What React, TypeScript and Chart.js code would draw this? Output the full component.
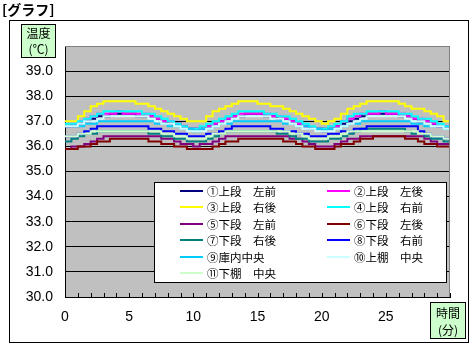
import React, { useEffect, useRef } from "react";
import { Chart, registerables } from "chart.js";

Chart.register(...registerables);

// Time (minutes)
const times = [
  0, 0.5, 1, 1.5, 2, 2.5, 3, 3.5, 4, 4.5,
  5, 5.5, 6, 6.5, 7, 7.5, 8, 8.5, 9, 9.5,
  10, 10.5, 11, 11.5, 12, 12.5, 13, 13.5, 14, 14.5,
  15, 15.5, 16, 16.5, 17, 17.5, 18, 18.5, 19, 19.5,
  20, 20.5, 21, 21.5, 22, 22.5, 23, 23.5, 24, 24.5,
  25, 25.5, 26, 26.5, 27, 27.5, 28, 28.5, 29, 29.5,
  30,
];

const s1 = [
  36.8, 36.8, 36.9, 37.0, 37.1, 37.2, 37.2, 37.3, 37.3, 37.3,
  37.3, 37.2, 37.2, 37.2, 37.1, 37.0, 36.9, 36.9, 36.8, 36.7,
  36.7, 36.7, 36.8, 36.9, 37.0, 37.1, 37.2, 37.2, 37.3, 37.3,
  37.3, 37.2, 37.2, 37.1, 37.1, 37.0, 36.9, 36.8, 36.7, 36.7,
  36.7, 36.7, 36.8, 36.9, 37.0, 37.1, 37.2, 37.3, 37.3, 37.3,
  37.3, 37.3, 37.2, 37.2, 37.1, 37.0, 37.0, 36.9, 36.8, 36.8,
  36.7,
];
const s2 = [
  36.8, 36.9, 37.0, 37.1, 37.2, 37.3, 37.3, 37.3, 37.4, 37.3,
  37.3, 37.3, 37.3, 37.2, 37.1, 37.0, 37.0, 36.9, 36.8, 36.7,
  36.7, 36.7, 36.8, 36.9, 37.0, 37.1, 37.2, 37.3, 37.3, 37.3,
  37.3, 37.3, 37.2, 37.2, 37.1, 37.0, 36.9, 36.8, 36.7, 36.7,
  36.6, 36.7, 36.8, 37.0, 37.1, 37.2, 37.3, 37.3, 37.3, 37.4,
  37.3, 37.3, 37.3, 37.2, 37.1, 37.1, 37.0, 36.9, 36.8, 36.8,
  36.7,
];
const s3 = [
  37.0, 37.0, 37.2, 37.4, 37.6, 37.7, 37.8, 37.8, 37.8, 37.8,
  37.8, 37.7, 37.7, 37.6, 37.5, 37.4, 37.3, 37.2, 37.1, 37.0,
  37.0, 37.0, 37.2, 37.4, 37.5, 37.6, 37.7, 37.8, 37.8, 37.8,
  37.7, 37.7, 37.6, 37.6, 37.5, 37.4, 37.3, 37.2, 37.1, 37.0,
  36.9, 37.0, 37.1, 37.3, 37.5, 37.6, 37.7, 37.8, 37.8, 37.8,
  37.8, 37.8, 37.7, 37.6, 37.5, 37.5, 37.4, 37.3, 37.2, 37.0,
  37.0,
];
const s4 = [
  36.9, 36.9, 37.0, 37.1, 37.2, 37.3, 37.4, 37.4, 37.4, 37.4,
  37.4, 37.4, 37.3, 37.3, 37.2, 37.1, 37.0, 36.9, 36.8, 36.7,
  36.7, 36.8, 36.9, 37.0, 37.1, 37.2, 37.3, 37.4, 37.4, 37.4,
  37.4, 37.3, 37.3, 37.2, 37.2, 37.1, 37.0, 36.9, 36.8, 36.7,
  36.7, 36.8, 36.9, 37.0, 37.2, 37.3, 37.3, 37.4, 37.4, 37.4,
  37.4, 37.4, 37.3, 37.3, 37.2, 37.1, 37.1, 37.0, 36.9, 36.8,
  36.8,
];
const s5 = [
  35.9, 36.0, 36.0, 36.1, 36.2, 36.3, 36.4, 36.4, 36.4, 36.4,
  36.4, 36.4, 36.4, 36.4, 36.4, 36.3, 36.3, 36.2, 36.1, 36.1,
  36.0, 36.1, 36.1, 36.2, 36.3, 36.4, 36.4, 36.4, 36.4, 36.4,
  36.4, 36.4, 36.4, 36.4, 36.4, 36.3, 36.3, 36.2, 36.1, 36.0,
  36.0, 36.0, 36.1, 36.2, 36.3, 36.3, 36.4, 36.4, 36.4, 36.4,
  36.4, 36.4, 36.4, 36.4, 36.4, 36.4, 36.3, 36.2, 36.1, 36.1,
  36.0,
];
const s6 = [
  35.9, 35.9, 36.0, 36.0, 36.1, 36.2, 36.2, 36.3, 36.3, 36.3,
  36.3, 36.3, 36.3, 36.2, 36.2, 36.1, 36.1, 36.0, 36.0, 35.9,
  35.9, 35.9, 35.9, 36.0, 36.1, 36.2, 36.2, 36.3, 36.3, 36.3,
  36.3, 36.3, 36.3, 36.3, 36.2, 36.2, 36.1, 36.0, 36.0, 35.9,
  35.9, 35.9, 36.0, 36.1, 36.1, 36.2, 36.3, 36.3, 36.4, 36.4,
  36.4, 36.4, 36.4, 36.3, 36.3, 36.2, 36.1, 36.1, 36.0, 36.0,
  35.9,
];
const s7 = [
  36.2, 36.3, 36.4, 36.5, 36.5, 36.6, 36.6, 36.6, 36.6, 36.6,
  36.6, 36.6, 36.6, 36.5, 36.5, 36.4, 36.4, 36.3, 36.3, 36.2,
  36.2, 36.2, 36.3, 36.4, 36.5, 36.6, 36.6, 36.6, 36.6, 36.6,
  36.6, 36.6, 36.6, 36.5, 36.5, 36.4, 36.3, 36.3, 36.2, 36.2,
  36.2, 36.3, 36.3, 36.4, 36.5, 36.6, 36.7, 36.7, 36.7, 36.7,
  36.7, 36.7, 36.7, 36.6, 36.5, 36.5, 36.4, 36.3, 36.3, 36.2,
  36.2,
];
const s8 = [
  36.4, 36.4, 36.5, 36.6, 36.7, 36.8, 36.8, 36.8, 36.8, 36.8,
  36.8, 36.8, 36.8, 36.7, 36.7, 36.6, 36.6, 36.5, 36.5, 36.4,
  36.4, 36.4, 36.5, 36.5, 36.6, 36.7, 36.8, 36.8, 36.8, 36.8,
  36.8, 36.8, 36.7, 36.7, 36.6, 36.6, 36.5, 36.5, 36.4, 36.4,
  36.4, 36.5, 36.5, 36.6, 36.6, 36.7, 36.7, 36.8, 36.8, 36.8,
  36.8, 36.8, 36.8, 36.8, 36.8, 36.6, 36.5, 36.4, 36.4, 36.3,
  36.3,
];
const s9 = [
  36.8, 36.8, 36.8, 36.9, 36.9, 37.0, 37.0, 37.0, 37.0, 37.0,
  37.0, 37.0, 37.0, 37.0, 36.9, 36.9, 36.8, 36.8, 36.7, 36.7,
  36.6, 36.7, 36.7, 36.8, 36.9, 36.9, 37.0, 37.0, 37.0, 37.0,
  37.0, 37.0, 37.0, 37.0, 36.9, 36.9, 36.8, 36.8, 36.7, 36.7,
  36.6, 36.7, 36.7, 36.8, 36.9, 36.9, 37.0, 37.0, 37.0, 37.0,
  37.0, 37.0, 37.0, 37.0, 36.9, 36.9, 36.8, 36.8, 36.8, 36.7,
  36.7,
];
const s10 = [
  36.8, 36.8, 36.9, 37.0, 37.0, 37.1, 37.2, 37.2, 37.2, 37.2,
  37.2, 37.2, 37.2, 37.1, 37.0, 36.9, 36.9, 36.8, 36.7, 36.6,
  36.6, 36.6, 36.7, 36.8, 36.9, 37.0, 37.1, 37.2, 37.2, 37.2,
  37.2, 37.2, 37.1, 37.1, 37.0, 36.9, 36.8, 36.7, 36.7, 36.6,
  36.6, 36.6, 36.7, 36.8, 36.9, 37.0, 37.1, 37.2, 37.2, 37.2,
  37.2, 37.2, 37.2, 37.1, 37.0, 37.0, 36.9, 36.8, 36.8, 36.7,
  36.7,
];
const s11 = [
  36.4, 36.4, 36.5, 36.5, 36.6, 36.6, 36.6, 36.6, 36.6, 36.6,
  36.6, 36.6, 36.6, 36.6, 36.6, 36.5, 36.5, 36.4, 36.4, 36.3,
  36.3, 36.3, 36.4, 36.5, 36.5, 36.6, 36.6, 36.6, 36.6, 36.6,
  36.6, 36.6, 36.6, 36.6, 36.6, 36.5, 36.5, 36.4, 36.3, 36.3,
  36.3, 36.4, 36.4, 36.5, 36.6, 36.6, 36.6, 36.6, 36.6, 36.6,
  36.6, 36.6, 36.6, 36.6, 36.6, 36.5, 36.5, 36.4, 36.4, 36.3,
  36.3,
];

const seriesValues = [s1, s2, s3, s4, s5, s6, s7, s8, s9, s10, s11];
const seriesNames = [
  "①上段　左前",
  "②上段　左後",
  "③上段　右後",
  "④上段　右前",
  "⑤下段　左前",
  "⑥下段　左後",
  "⑦下段　右後",
  "⑧下段　右前",
  "⑨庫内中央",
  "⑩上棚　中央",
  "⑪下棚　中央",
];
const seriesColors = [
  "#000080",
  "#ff00ff",
  "#ffff00",
  "#00ffff",
  "#800080",
  "#800000",
  "#008080",
  "#0000ff",
  "#00ccff",
  "#ccffff",
  "#ccffcc",
];

const yMin = 30;
const yMax = 40;
const xMin = 0;
const xMax = 30;
const xLabelValues = [0, 5, 10, 15, 20, 25];

const chartTitle = "[グラフ]";
const yTitleLines = ["温度", "(℃)"];
const xTitleLines = ["時間", "(分)"];

const JP = '"Noto Sans CJK JP", sans-serif';
const NUM = '"Liberation Sans", Arial, sans-serif';

const decorPlugin = {
  id: "decor",
  beforeDraw(chart: any) {
    const { ctx, chartArea: a, width, height } = chart;
    ctx.save();
    ctx.fillStyle = "#ffffff";
    ctx.fillRect(0, 0, width, height);
    // outer frame
    ctx.strokeStyle = "#000000";
    ctx.lineWidth = 1;
    ctx.strokeRect(9.5, 20.5, 459, 322);
    // plot background
    ctx.fillStyle = "#c0c0c0";
    ctx.fillRect(a.left, a.top, a.right - a.left, a.bottom - a.top);
    ctx.restore();
  },
  afterDatasetsDraw(chart: any) {
    const { ctx, chartArea: a } = chart;
    ctx.save();
    // legend box
    const lx = 154.5, ly = 182.5, lw = 292, lh = 100;
    ctx.fillStyle = "#ffffff";
    ctx.fillRect(lx, ly, lw, lh);
    ctx.strokeStyle = "#000000";
    ctx.lineWidth = 1;
    ctx.strokeRect(lx, ly, lw, lh);
    ctx.font = `11.5px ${JP}`;
    ctx.textBaseline = "middle";
    ctx.textAlign = "left";
    chart.data.datasets.forEach((ds: any, i: number) => {
      const col = i % 2;
      const row = Math.floor(i / 2);
      const cy = Math.round(190.7 + row * 16.5);
      const x0 = col === 0 ? 180 : 327;
      ctx.strokeStyle = ds.borderColor;
      ctx.lineWidth = 2;
      ctx.beginPath();
      ctx.moveTo(x0, cy);
      ctx.lineTo(x0 + 23, cy);
      ctx.stroke();
      ctx.fillStyle = "#000000";
      ctx.fillText(ds.label, x0 + 27, cy + 1);
    });
    // plot border (top / right)
    ctx.strokeStyle = "#808080";
    ctx.lineWidth = 1;
    ctx.beginPath();
    ctx.moveTo(a.left, a.top + 0.5);
    ctx.lineTo(a.right - 0.5, a.top + 0.5);
    ctx.lineTo(a.right - 0.5, a.bottom);
    ctx.stroke();
    // minor ticks on x axis, pointing inward
    const xs = chart.scales.x;
    ctx.strokeStyle = "#000000";
    ctx.beginPath();
    xs.ticks.forEach((t: any) => {
      const px = Math.round(xs.getPixelForValue(t.value)) + 0.5;
      ctx.moveTo(px, a.bottom);
      ctx.lineTo(px, a.bottom - 4);
    });
    ctx.stroke();
    ctx.restore();
  },
  afterDraw(chart: any) {
    const { ctx } = chart;
    ctx.save();
    // title
    ctx.fillStyle = "#000000";
    ctx.font = `bold 14px ${JP}`;
    ctx.textBaseline = "alphabetic";
    ctx.textAlign = "left";
    ctx.fillText(chartTitle, 2, 15);
    // y title box
    ctx.fillStyle = "#ccffcc";
    ctx.fillRect(21.5, 24.5, 34, 33);
    ctx.strokeStyle = "#000000";
    ctx.lineWidth = 1;
    ctx.strokeRect(21.5, 24.5, 34, 33);
    ctx.fillStyle = "#000000";
    ctx.font = `12px ${JP}`;
    ctx.textAlign = "center";
    ctx.textBaseline = "middle";
    ctx.fillText(yTitleLines[0], 38.5, 33.5);
    ctx.fillText(yTitleLines[1], 38.5, 49.5);
    // x title box
    ctx.fillStyle = "#ccffcc";
    ctx.fillRect(430.5, 302.5, 35, 36);
    ctx.strokeRect(430.5, 302.5, 35, 36);
    ctx.fillStyle = "#000000";
    ctx.fillText(xTitleLines[0], 448, 313);
    ctx.fillText(xTitleLines[1], 448, 330);
    ctx.restore();
  },
};

export default function App() {
  const ref = useRef<HTMLCanvasElement>(null);
  useEffect(() => {
    const canvas = ref.current;
    if (!canvas) return;
    const datasets = seriesValues.map((vals, i) => ({
      label: seriesNames[i],
      data: times.map((t, k) => ({ x: t, y: vals[k] })),
      borderColor: seriesColors[i],
      backgroundColor: seriesColors[i],
      borderWidth: 2,
      pointRadius: 0,
      stepped: true,
      fill: false,
      order: seriesValues.length - i,
    }));
    const chart = new Chart(canvas, {
      type: "line",
      data: { datasets },
      options: {
        responsive: false,
        devicePixelRatio: 1,
        animation: false,
        events: [],
        layout: { padding: { left: 0, right: 25, top: 46, bottom: 0 } },
        plugins: {
          legend: { display: false },
          tooltip: { enabled: false },
          title: { display: false },
        },
        scales: {
          x: {
            type: "linear",
            min: xMin,
            max: xMax,
            afterFit: (s: any) => {
              s.height = 54;
            },
            ticks: {
              stepSize: 1,
              autoSkip: false,
              maxRotation: 0,
              padding: 12,
              color: "#000000",
              font: { family: NUM, size: 14 },
              callback: (v: any) => (xLabelValues.includes(Number(v)) ? String(v) : ""),
            },
            grid: { display: false, drawTicks: false },
            border: { display: true, color: "#000000", width: 1 },
          },
          y: {
            type: "linear",
            min: yMin,
            max: yMax,
            afterFit: (s: any) => {
              s.width = 65;
            },
            ticks: {
              stepSize: 1,
              padding: 12,
              color: "#000000",
              font: { family: NUM, size: 14 },
              callback: (v: any) => (Number(v) === yMax ? "" : Number(v).toFixed(1)),
            },
            grid: {
              drawTicks: false,
              color: (c: any) => (c.tick && c.tick.value === yMax ? "#808080" : "#000000"),
              lineWidth: 1,
            },
            border: { display: true, color: "#000000", width: 1 },
          },
        },
      },
      plugins: [decorPlugin],
    } as any);
    return () => chart.destroy();
  }, []);
  return (
    <div style={{ position: "fixed", left: 0, top: 0, width: 475, height: 351, background: "#ffffff" }}>
      <canvas ref={ref} width={475} height={351} style={{ display: "block", width: 475, height: 351 }} />
    </div>
  );
}
